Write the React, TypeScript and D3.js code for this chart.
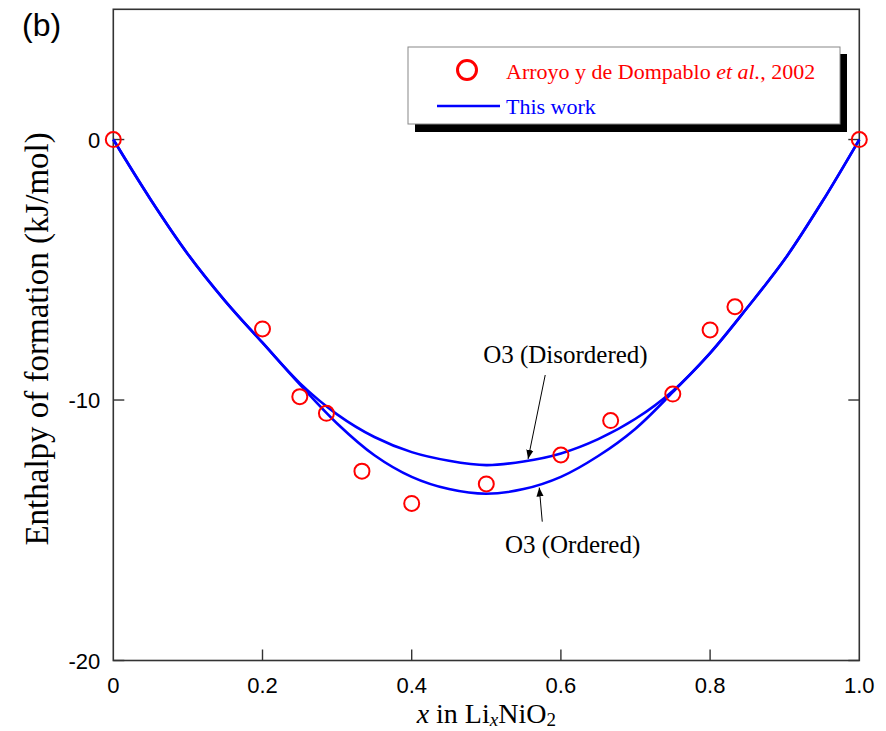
import React from "react";
import * as d3 from "d3";

// ---- data ----
const pointX = [0, 0.2, 0.25, 0.2857, 0.3333, 0.4, 0.5, 0.6, 0.6667, 0.75, 0.8, 0.8333, 1.0];
const pointY = [0, -7.27, -9.87, -10.51, -12.73, -13.97, -13.22, -12.11, -10.79, -9.77, -7.31, -6.42, 0];

const curveX = [0, 0.05, 0.1, 0.15, 0.2, 0.25, 0.3, 0.35, 0.4, 0.45, 0.5, 0.55, 0.6, 0.65, 0.7, 0.75, 0.8, 0.85, 0.9, 0.95, 1.0];
const disorderedY = [0, -2.3, -4.4, -6.2, -7.8, -9.35, -10.55, -11.42, -12.0, -12.33, -12.5, -12.36, -12.05, -11.5, -10.72, -9.65, -8.2, -6.45, -4.6, -2.4, 0];
const orderedY = [0, -2.3, -4.4, -6.2, -7.8, -9.4, -10.9, -12.12, -12.95, -13.42, -13.6, -13.42, -12.95, -12.15, -11.1, -9.7, -8.2, -6.45, -4.6, -2.4, 0];

const xTicks = [0, 0.2, 0.4, 0.6, 0.8, 1.0];
const xTickLabels = ["0", "0.2", "0.4", "0.6", "0.8", "1.0"];
const yTicks = [0, -10, -20];
const yTickLabels = ["0", "-10", "-20"];

// annotations in data units: text anchor, arrow start, arrow tip
const annotations = [
  { label: "O3 (Disordered)", tx: 0.4958, ty: -8.58, ax: 0.579, ay: -9.04, bx: 0.556, by: -12.26 },
  { label: "O3 (Ordered)", tx: 0.525, ty: -15.87, ax: 0.575, ay: -14.67, bx: 0.571, by: -13.36 },
];

const serif = "'Liberation Serif', 'Times New Roman', serif";
const sans = "'Liberation Sans', Arial, sans-serif";

export default function App() {
  const W = 886, H = 731;
  const x = d3.scaleLinear().domain([0, 1]).range([113.3, 859.3]);
  const y = d3.scaleLinear().domain([-20, 5]).range([660.5, 9.3]);

  const line = d3
    .line<number>()
    .x((_, i) => x(curveX[i]))
    .curve(d3.curveCatmullRom.alpha(0.5));

  const dPath = line.y((v) => y(v))(disorderedY) || "";
  const oPath = line.y((v) => y(v))(orderedY) || "";

  const x0 = x(0), x1 = x(1), yTop = y(5), yBot = y(-20);
  const tickLen = 11;

  return (
    <svg
      width={W}
      height={H}
      style={{ position: "absolute", left: 0, top: 0, background: "#fff" }}
      xmlns="http://www.w3.org/2000/svg"
    >
      <defs>
        <marker id="ah" viewBox="0 0 10 10" refX="10" refY="5" markerWidth="9" markerHeight="9" orient="auto" markerUnits="userSpaceOnUse">
          <path d="M0,1 L10,5 L0,9 Z" fill="#000" />
        </marker>
      </defs>
      <rect x={0} y={0} width={W} height={H} fill="#fff" />

      {/* panel label */}
      <text x={22} y={36} fontFamily={sans} fontSize={32} fill="#000">(b)</text>

      {/* frame */}
      <rect x={x0} y={yTop} width={x1 - x0} height={yBot - yTop} fill="none" stroke="#333" strokeWidth={1.6} />

      {/* x ticks */}
      {xTicks.map((t, i) => (
        <g key={"xt" + i}>
          {i > 0 && i < xTicks.length - 1 && (
            <line x1={x(t)} x2={x(t)} y1={yBot} y2={yBot - tickLen} stroke="#333" strokeWidth={1.4} />
          )}
          <text x={x(t)} y={yBot + 32} textAnchor="middle" fontFamily={sans} fontSize={22} fill="#000">
            {xTickLabels[i]}
          </text>
        </g>
      ))}

      {/* y ticks */}
      {yTicks.map((t, i) => (
        <g key={"yt" + i}>
          <line x1={x0} x2={x0 + tickLen} y1={y(t)} y2={y(t)} stroke="#333" strokeWidth={1.4} />
          <line x1={x1} x2={x1 - tickLen} y1={y(t)} y2={y(t)} stroke="#333" strokeWidth={1.4} />
          <text x={x0 - 13} y={y(t) + 8} textAnchor="end" fontFamily={sans} fontSize={22} fill="#000">
            {yTickLabels[i]}
          </text>
        </g>
      ))}

      {/* axis titles */}
      <text
        transform={`translate(48, ${(yTop + yBot) / 2 + 4}) rotate(-90)`}
        textAnchor="middle"
        fontFamily={serif}
        fontSize={33}
        fill="#000"
      >
        Enthalpy of formation (kJ/mol)
      </text>
      <text x={(x0 + x1) / 2} y={723} textAnchor="middle" fontFamily={serif} fontSize={28} fill="#000">
        <tspan fontStyle="italic">x</tspan>
        <tspan> in Li</tspan>
        <tspan fontStyle="italic" fontSize={19} dy={3}>x</tspan>
        <tspan dy={-3}>NiO</tspan>
        <tspan fontSize={19} dy={3}>2</tspan>
      </text>

      {/* curves */}
      <path d={dPath} fill="none" stroke="#0000ff" strokeWidth={2.6} />
      <path d={oPath} fill="none" stroke="#0000ff" strokeWidth={2.6} />

      {/* data points */}
      {pointX.map((px, i) => (
        <circle key={"p" + i} cx={x(px)} cy={y(pointY[i])} r={7.5} fill="none" stroke="#ff0000" strokeWidth={2} />
      ))}

      {/* annotations */}
      {annotations.map((a, i) => (
        <g key={"a" + i}>
          <text x={x(a.tx)} y={y(a.ty)} fontFamily={serif} fontSize={25} fill="#000">{a.label}</text>
          <line x1={x(a.ax)} y1={y(a.ay)} x2={x(a.bx)} y2={y(a.by)} stroke="#000" strokeWidth={1} markerEnd="url(#ah)" />
        </g>
      ))}

      {/* legend */}
      <rect x={415} y={54} width={432} height={78} fill="#000" />
      <rect x={408} y={47} width={432} height={77} fill="#fff" stroke="#888" strokeWidth={1} />
      <circle cx={467} cy={70} r={9.5} fill="none" stroke="#ff0000" strokeWidth={3} />
      <text x={506} y={79} fontFamily={serif} fontSize={22} fill="#ff0000">
        Arroyo y de Dompablo <tspan fontStyle="italic">et al.</tspan>, 2002
      </text>
      <line x1={437} x2={500} y1={106} y2={106} stroke="#0000ff" strokeWidth={2.6} />
      <text x={506} y={114} fontFamily={serif} fontSize={22} fill="#0000ff">This work</text>
    </svg>
  );
}
